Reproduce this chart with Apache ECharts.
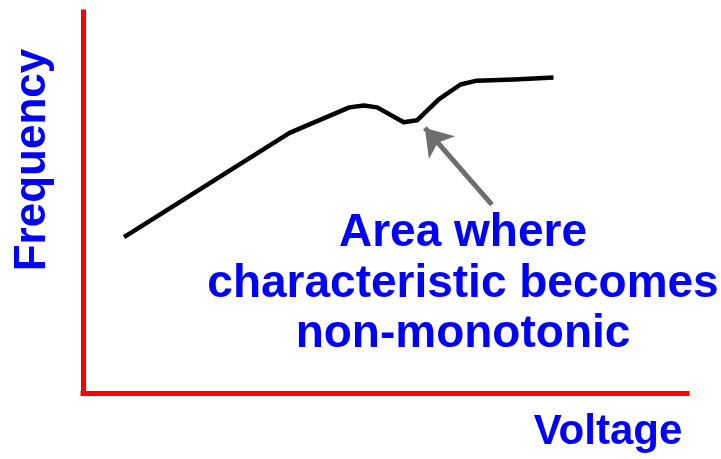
<!DOCTYPE html>
<html>
<head>
<meta charset="utf-8">
<script src="https://cdn.jsdelivr.net/npm/echarts@6/dist/echarts.min.js"></script>
<style>
  html, body { margin: 0; padding: 0; background: #ffffff; }
  #main { width: 721px; height: 459px; }
</style>
</head>
<body>
<div id="main"></div>
<script>
// 曲线数据 (无刻度, 任意单位 0-100)
var voltage = [6.8, 34.2, 44.1, 46.5, 48.7, 53.1, 55.3, 58.9, 62.5, 65.2, 71.3, 77.9];
var frequency = [41.0, 68.3, 75.0, 75.5, 75.0, 71.1, 71.6, 77.1, 81.0, 82.0, 82.3, 82.8];
// 箭头: 尾 -> 头
var arrowFrom = [67.7, 49.5];
var arrowTo = [56.6, 69.6];
var noteLines = ['Area where', 'characteristic becomes', 'non-monotonic'];

var curveData = [];
for (var i = 0; i < voltage.length; i++) {
  curveData.push([voltage[i], frequency[i]]);
}

var myChart = echarts.init(document.getElementById('main'));
var font = '"Liberation Sans", Arial, sans-serif';
var blue = '#0000ff';

var graphics = [
  {
    type: 'text',
    x: 33, y: 160,
    rotation: Math.PI / 2,
    style: { text: 'Frequency', fill: blue, font: 'bold 44px ' + font, align: 'center', verticalAlign: 'middle' }
  },
  {
    type: 'text',
    x: 608, y: 432,
    style: { text: 'Voltage', fill: blue, font: 'bold 42px ' + font, align: 'center', verticalAlign: 'middle' }
  }
];
var noteY = [233, 284, 334];
for (var j = 0; j < noteLines.length; j++) {
  graphics.push({
    type: 'text',
    x: 463, y: noteY[j],
    style: { text: noteLines[j], fill: blue, font: 'bold 46px ' + font, align: 'center', verticalAlign: 'middle' }
  });
}

var option = {
  backgroundColor: '#ffffff',
  animation: false,
  grid: { left: 83, top: 12, width: 604, height: 381.5 },
  xAxis: {
    type: 'value', min: 0, max: 100,
    axisLine: { show: true, lineStyle: { color: '#ff0000', width: 5, cap: 'square' } },
    axisTick: { show: false }, axisLabel: { show: false }, splitLine: { show: false }
  },
  yAxis: {
    type: 'value', min: 0, max: 100,
    axisLine: { show: true, lineStyle: { color: '#ff0000', width: 5, cap: 'square' } },
    axisTick: { show: false }, axisLabel: { show: false }, splitLine: { show: false }
  },
  series: [
    {
      type: 'line',
      data: curveData,
      symbol: 'none',
      lineStyle: { color: '#000000', width: 4.5, join: 'round' }
    },
    {
      type: 'lines',
      coordinateSystem: 'cartesian2d',
      symbol: ['none', 'arrow'],
      symbolSize: 26,
      lineStyle: { color: '#6e6e6e', width: 5, opacity: 1, curveness: 0 },
      data: [{ coords: [arrowFrom, arrowTo] }]
    }
  ],
  graphic: graphics
};
option && myChart.setOption(option);
</script>
</body>
</html>
